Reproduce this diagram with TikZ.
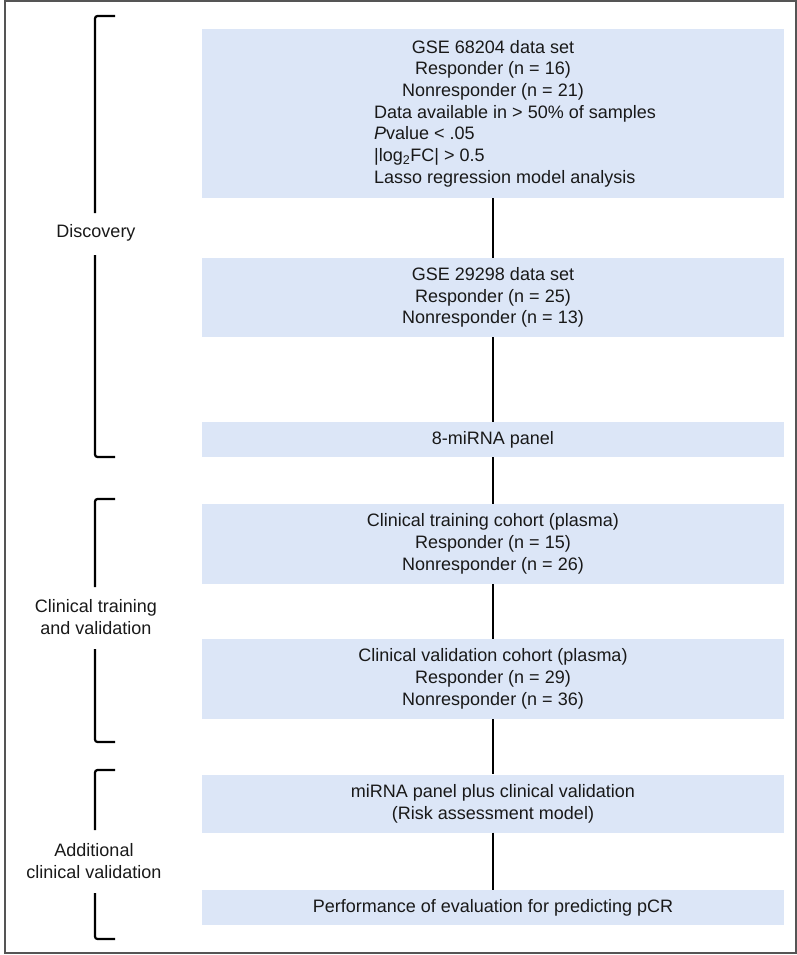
\documentclass[tikz,border=0pt]{standalone}
\usepackage{fontspec}
\setmainfont{Liberation Sans}
\definecolor{boxblue}{HTML}{DCE6F7}
\definecolor{framegray}{HTML}{555555}
\tikzset{
  stage/.style={fill=boxblue, minimum width=582pt, inner sep=0pt, align=center, text=black!90},
  crit/.style={align=left, inner sep=0pt, text=black!90},
  phase/.style={align=center, inner sep=0pt, text=black!90},
  link/.style={line width=2.4pt},
  bracket/.style={line width=2.2pt, rounded corners=2.5pt}
}
\begin{document}
\begin{tikzpicture}[x=1pt,y=-1pt,font=\fontsize{18}{21.7}\selectfont]
\def	\bx	{95};
\def	\tk	{20};
\def	\cx	{493};
\useasboundingbox (0,0) rectangle (797,955);
\draw[framegray,line width=2pt] (5,1) rectangle (796,953);
% flow boxes
\node[stage,minimum height=169pt] (gseA) at (\cx,113.5) {};
\node[phase] (gseAhead) at (\cx,70.1) {GSE 68204 data set\\Responder (n = 16)\\Nonresponder (n = 21)};
\node[crit,anchor=west] (gseAcrit) at (374,146) {Data available in > 50\% of samples\\\textit{P}value < .05\\|log\textsubscript{2}FC| > 0.5\\Lasso regression model analysis};
\node[stage,minimum height=79pt] (gseB) at (\cx,297.5) {GSE 29298 data set\\Responder (n = 25)\\Nonresponder (n = 13)};
\node[stage,minimum height=35pt] (panel) at (\cx,439.5) {8-miRNA panel};
\node[stage,minimum height=80pt] (train) at (\cx,544) {Clinical training cohort (plasma)\\Responder (n = 15)\\Nonresponder (n = 26)};
\node[stage,minimum height=80pt] (valid) at (\cx,679) {Clinical validation cohort (plasma)\\Responder (n = 29)\\Nonresponder (n = 36)};
\node[stage,minimum height=58pt] (risk) at (\cx,803.5) {miRNA panel plus clinical validation\\(Risk assessment model)};
\node[stage,minimum height=35pt] (perf) at (\cx,907.5) {Performance of evaluation for predicting pCR};
\foreach \a/\b in {gseA/gseB,gseB/panel,panel/train,train/valid,valid/risk,risk/perf}
  \draw[link] (\a) -- (\b);
% phase brackets
\node[phase] (disc) at (96,233) {Discovery};
\node[phase] (clin) at (96,617) {Clinical training\\and validation};
\node[phase] (addl) at (94,861) {Additional\\clinical validation};
\begin{scope}[bracket]
\draw (\bx+\tk,16) -| (\bx,213);
\draw (\bx,255) |- (\bx+\tk,457);
\draw (\bx+\tk,499) -| (\bx,587);
\draw (\bx,649) |- (\bx+\tk,742);
\draw (\bx+\tk,770) -| (\bx,830);
\draw (\bx,893) |- (\bx+\tk,939);
\end{scope}
\end{tikzpicture}
\end{document}
